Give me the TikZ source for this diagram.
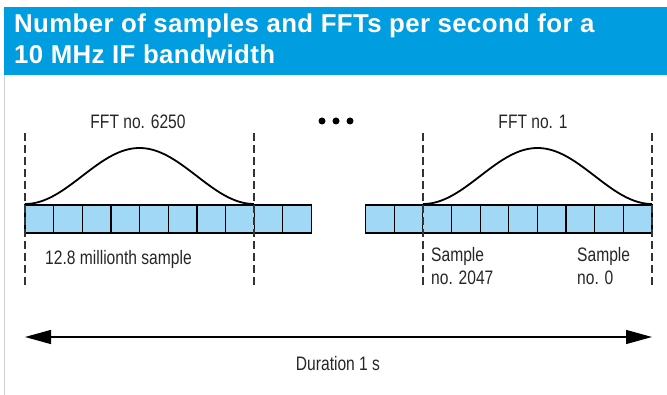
\documentclass[tikz,border=0pt]{standalone}
\usepackage{fontspec}
\usepackage{tikz}
\usetikzlibrary{positioning,arrows.meta}
\setmainfont{Liberation Sans}
\newfontfamily\labelfont{Liberation Sans}[FakeStretch=0.8]
\newfontfamily\titlefont{Liberation Sans}[LetterSpace=1.5]
\definecolor{headblue}{RGB}{0,157,224}
\definecolor{cellblue}{RGB}{160,216,245}
\definecolor{framegrey}{RGB}{205,208,212}
\tikzset{
    headtitle/.style={
        text=white,
        font=\titlefont\bfseries\fontsize{25.8}{31}\selectfont,
        align=left,
        inner sep=0pt
    },
    textlabel/.style={
        text=black!85,
        font=\labelfont\fontsize{19.5}{23}\selectfont,
        inner sep=0pt
    },
    cell/.style={
        draw=black,
        fill=cellblue,
        line width=1.2pt,
        minimum width=28.65pt,
        minimum height=28pt,
        inner sep=0pt
    },
    window/.style={
        draw=black,
        line width=1.8pt
    },
    boundary/.style={
        draw=black!80,
        line width=1.3pt,
        dash pattern=on 8pt off 4pt
    },
    timeline/.style={
        {Triangle[length=26pt,width=14pt]}-{Triangle[length=26pt,width=14pt]},
        line width=1.2pt
    }
}

\begin{document}
\begin{tikzpicture}[x=1pt,y=-1pt]
\useasboundingbox (0,0) rectangle (667,395);

% Header
\fill[headblue] (4,7) rectangle (667,75);
\draw[framegrey, line width=1.5pt] (4.5,75) -- (4.5,395);
\node[headtitle, anchor=north west] (title) at (14,13.5)
{Number of samples and FFTs per second for a\\10 MHz IF bandwidth};

% Sample rows
\foreach \i in {0,...,9}{
    \node[cell] (left\i) at ({25+28.65*(\i+0.5)},219) {};
    \node[cell] (right\i) at ({365.5+28.65*(\i+0.5)},219) {};
}

% FFT windows
\draw[window] plot[domain=0:1, samples=80]
    ({25+229*\x},{204-56*(1-cos(360*\x))/2});
\draw[window] plot[domain=0:1, samples=80]
    ({423+229*\x},{204-56*(1-cos(360*\x))/2});

\draw[boundary] (25,133) -- (25,287);
\draw[boundary] (254,133) -- (254,287);
\draw[boundary] (423,133) -- (423,287);
\draw[boundary] (652,133) -- (652,287);

\node[textlabel] (fftlast) at (138,122) {FFT no. 6250};
\node[textlabel] (fftfirst) at (533,122) {FFT no. 1};

\foreach \xd in {322,336,350}
    \fill (\xd,121) circle (3.5pt);

% Sample labels
\node[textlabel, anchor=base west] (millionth) at (45,265)
{12.8 millionth sample};
\node[textlabel, anchor=north west, align=left] (lastsample) at (431,247)
{Sample\\no. 2047};
\node[textlabel, anchor=north west, align=left] (firstsample) at (577,247)
{Sample\\no. 0};

% Duration
\coordinate (tstart) at (25,337);
\coordinate (tend) at (652,337);
\draw[timeline] (tstart) -- (tend);
\node[textlabel, anchor=base] (duration) at (338,371) {Duration 1 s};

\end{tikzpicture}
\end{document}
